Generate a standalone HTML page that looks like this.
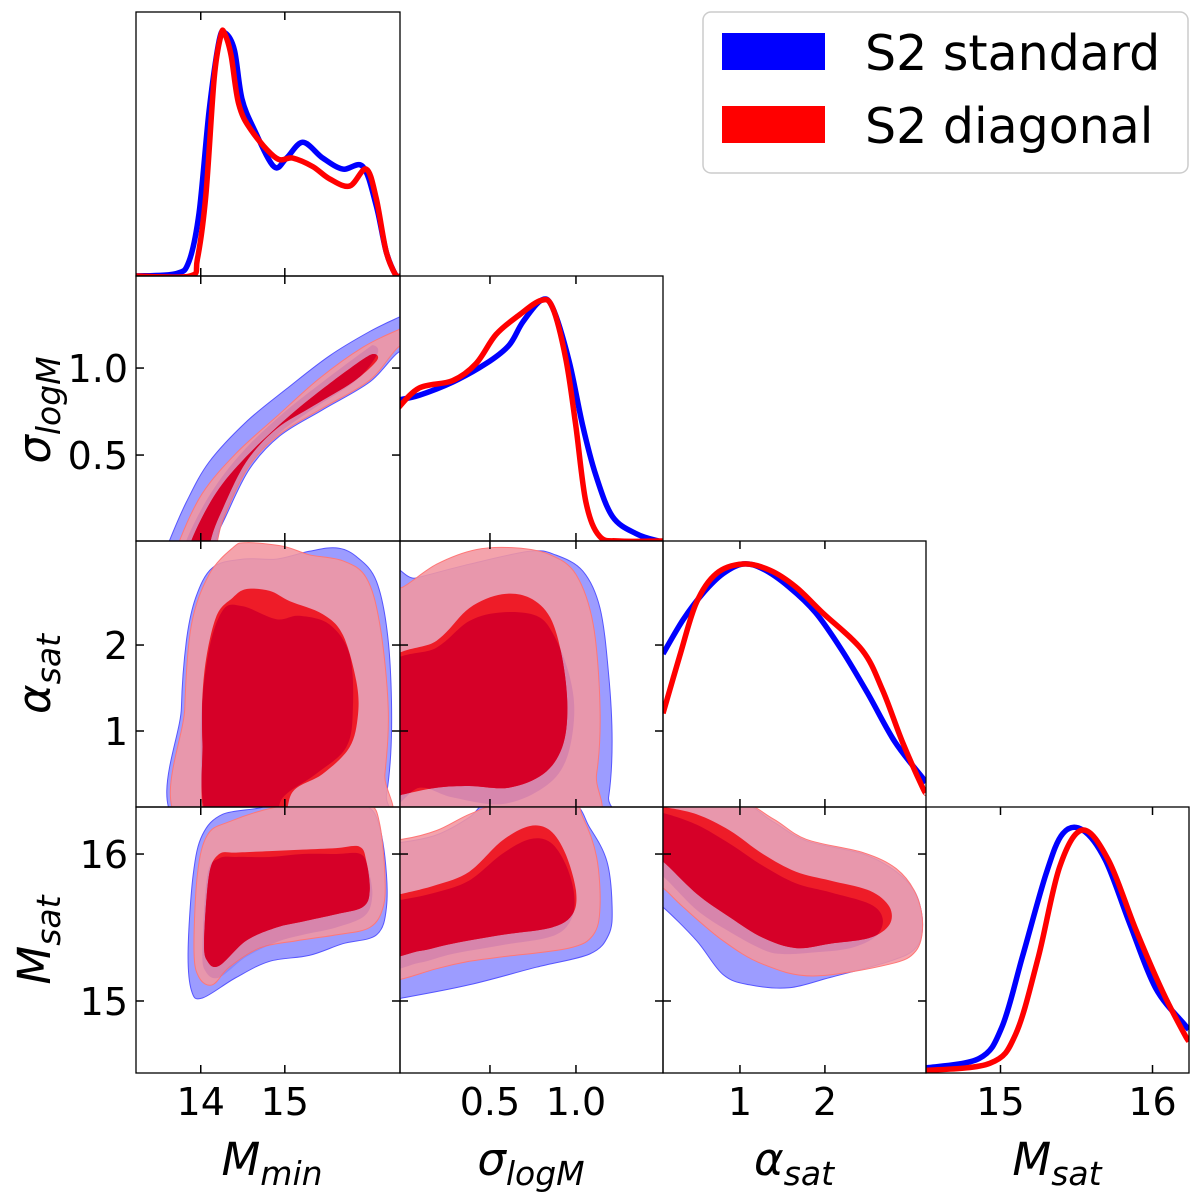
<!DOCTYPE html>
<html><head><meta charset="utf-8">
<style>
html,body{margin:0;padding:0;background:#fff;}
svg{display:block;font-family:"DejaVu Sans","Liberation Sans",sans-serif;}
</style></head>
<body>
<svg id="chart" width="1200" height="1200" viewBox="0 0 1200 1200" xmlns="http://www.w3.org/2000/svg">
<defs id="defs"></defs>
<g id="panels"></g>
<g id="labels"></g>
<g>
  <rect x="703" y="12" width="485" height="161" rx="8" fill="#fff" stroke="#cccccc" stroke-width="1.5"/>
  <rect x="722" y="33" width="103" height="37" fill="#0000ff"/>
  <text x="865" y="70" font-size="49" fill="#000">S2 standard</text>
  <rect x="722" y="106" width="103" height="37" fill="#ff0000"/>
  <text x="865" y="143" font-size="49" fill="#000">S2 diagonal</text>
</g>
</svg>
<script>
// ---- 1D marginal data (value, normalised density) ----
const mminBlueX=[13.23,13.706,13.86,13.98,14.10,14.22,14.29,14.40,14.49,14.64,14.87,15.02,15.214,15.452,15.69,15.929,16.087,16.206,16.325,16.37];
const mminBlueD=[0,0.01,0.06,0.26,0.68,0.97,1.0,0.93,0.73,0.6,0.45,0.485,0.55,0.485,0.44,0.45,0.29,0.1,0,0];
const mminRedX=[13.23,13.87,13.96,14.06,14.16,14.24,14.28,14.36,14.45,14.60,14.897,15.095,15.333,15.532,15.77,15.968,16.087,16.206,16.325,16.37];
const mminRedD=[0,0,0.07,0.33,0.815,0.99,1.0,0.91,0.71,0.6,0.485,0.485,0.45,0.40,0.37,0.44,0.32,0.1,0,0];
const sigBlueX=[-0.037,0.089,0.283,0.477,0.61,0.69,0.797,0.864,0.96,1.039,1.116,1.213,1.35,1.48,1.51];
const sigBlueD=[0.58,0.60,0.654,0.73,0.805,0.90,0.99,0.96,0.74,0.475,0.27,0.10,0.03,0.0,0.0];
const sigRedX=[-0.037,0.089,0.283,0.419,0.535,0.67,0.797,0.864,0.941,0.999,1.058,1.136,1.25,1.48,1.51];
const sigRedD=[0.545,0.63,0.66,0.73,0.85,0.93,0.99,0.96,0.75,0.475,0.16,0.02,0,0,0];
const alpBlueX=[0.094,0.33,0.565,0.80,1.035,1.27,1.58,1.89,2.2,2.5,2.82,3.15,3.19];
const alpBlueD=[0.63,0.77,0.88,0.96,1.0,0.98,0.905,0.80,0.645,0.47,0.27,0.12,0.10];
const alpRedX=[0.094,0.29,0.486,0.72,1.035,1.35,1.66,1.97,2.44,2.68,2.91,3.15,3.19];
const alpRedD=[0.385,0.62,0.84,0.96,1.0,0.975,0.905,0.80,0.645,0.48,0.27,0.08,0.06];
const msBlueX=[14.50,14.86,15.01,15.145,15.30,15.41,15.54,15.69,15.85,16.02,16.21,16.24];
const msBlueD=[0.02,0.06,0.19,0.48,0.82,0.985,1.0,0.876,0.615,0.35,0.2,0.18];
const msRedX=[14.50,14.93,15.10,15.25,15.39,15.54,15.71,15.89,16.07,16.21,16.24];
const msRedD=[0.01,0.04,0.16,0.48,0.85,1.0,0.876,0.59,0.33,0.16,0.13];

// ---- 2D contour data (x-value, y-value) ----
const smBlueOuter=[[13.47,-.2],[13.63,.01],[13.83,.23],[14.10,.46],[14.54,.69],[15.02,.88],[15.53,1.07],[16.01,1.21],[16.35,1.29],[16.56,1.33],[16.56,1.11],[16.35,1.09],[16.01,.92],[15.45,.76],[14.94,.61],[14.58,.42],[14.30,.15],[14.18,.01],[14.12,-.2]];
const smRedOuter=[[13.63,-.2],[13.75,.01],[14.02,.28],[14.42,.51],[14.90,.72],[15.41,.94],[15.93,1.12],[16.35,1.22],[16.56,1.26],[16.56,1.15],[16.35,1.12],[16.01,.93],[15.45,.77],[14.94,.62],[14.58,.44],[14.30,.17],[14.20,.01],[14.14,-.2]];
const smBlueInner=[[13.72,-.2],[13.83,.01],[14.12,.28],[14.50,.52],[14.98,.74],[15.45,.92],[15.95,1.1],[16.06,1.13],[16.1,1.08],[15.85,.93],[15.35,.77],[14.92,.62],[14.56,.43],[14.30,.16],[14.2,.01],[14.14,-.2]];
const smRedInner=[[13.79,-.2],[13.89,.01],[14.18,.28],[14.54,.49],[15.02,.71],[15.45,.88],[15.93,1.05],[16.07,1.08],[16.09,1.04],[15.81,.92],[15.33,.78],[14.90,.65],[14.54,.46],[14.26,.19],[14.12,.01],[14.06,-.2]];

const amBlueOuter=[[13.77,-.1],[13.77,1.27],[13.83,2.05],[13.94,2.55],[14.14,2.9],[14.5,3.0],[14.9,3.0],[15.29,3.09],[15.61,3.13],[15.85,3.03],[16.09,2.74],[16.23,2.05],[16.27,1.04],[16.21,.26],[16.09,-.1]];
const amRedOuter=[[13.81,-.1],[13.81,1.27],[13.89,2.24],[14.1,2.82],[14.38,3.13],[14.54,3.19],[14.98,3.15],[15.29,3.05],[15.69,2.98],[15.97,2.78],[16.13,2.24],[16.23,1.27],[16.19,.5],[16.09,-.1]];
const amBlueInner=[[14.12,-.1],[14.0,.88],[14.08,1.85],[14.26,2.4],[14.5,2.45],[14.9,2.3],[15.17,2.34],[15.53,2.24],[15.77,1.89],[15.81,1.27],[15.73,.81],[15.37,.5],[14.98,.23],[14.82,-.1]];
const amRedInner=[[14.1,-.1],[14.02,.88],[14.04,1.66],[14.18,2.32],[14.38,2.55],[14.54,2.65],[14.82,2.63],[15.06,2.51],[15.45,2.36],[15.69,2.12],[15.85,1.58],[15.87,1.19],[15.77,.81],[15.45,.5],[15.1,.3],[14.9,-.1]];

const asBlueOuter=[[-.12,-.1],[-.12,2.7],[.07,2.78],[.38,2.94],[.73,3.09],[.88,3.05],[1.04,2.86],[1.14,2.43],[1.19,1.66],[1.21,.88],[1.19,.23],[1.14,-.1]];
const asRedOuter=[[-.12,-.1],[-.12,2.63],[-.01,2.67],[.19,2.94],[.42,3.11],[.65,3.13],[.85,3.05],[1.0,2.82],[1.1,2.24],[1.14,1.27],[1.12,.5],[1.04,-.1]];
const asBlueInner=[[-.12,1.66],[.19,1.97],[.38,2.28],[.57,2.38],[.77,2.34],[.87,2.12],[.96,1.66],[.99,1.19],[.94,.65],[.81,.34],[.57,.15],[.28,.23],[.09,.34],[-.12,.15]];
const asRedInner=[[-.12,1.7],[.19,2.05],[.38,2.43],[.57,2.59],[.73,2.55],[.85,2.32],[.92,1.85],[.95,1.27],[.92,.81],[.81,.5],[.61,.34],[.38,.36],[.19,.34],[-.01,.26],[-.12,.19]];

const mmBlueOuter=[[13.85,15.34],[13.91,15.86],[14.02,16.13],[14.26,16.27],[14.74,16.32],[14.82,16.4],[15.02,16.45],[15.61,16.42],[15.93,16.34],[16.09,16.25],[16.19,15.98],[16.21,15.64],[16.09,15.45],[15.69,15.39],[15.29,15.31],[14.82,15.27],[14.42,15.16],[14.02,15.02],[13.89,15.07]];
const mmRedOuter=[[13.92,15.34],[13.96,15.86],[14.08,16.13],[14.34,16.22],[14.9,16.32],[15.61,16.37],[16.01,16.34],[16.13,16.2],[16.19,15.86],[16.17,15.64],[16.01,15.5],[15.61,15.45],[15.14,15.41],[14.7,15.36],[14.34,15.23],[14.14,15.11],[13.98,15.16]];
const mmBlueInner=[[14.02,15.35],[14.08,15.86],[14.22,15.97],[14.42,15.98],[14.82,15.98],[15.21,16.0],[15.61,16.0],[15.9,16.0],[15.99,15.9],[16.04,15.72],[15.95,15.58],[15.61,15.5],[15.21,15.45],[14.9,15.4],[14.54,15.3],[14.22,15.16],[14.06,15.2]];
const mmRedInner=[[14.04,15.41],[14.1,15.86],[14.22,16.0],[14.42,16.01],[14.82,16.02],[15.21,16.03],[15.61,16.04],[15.89,16.05],[15.97,15.95],[16.01,15.75],[15.93,15.64],[15.61,15.59],[15.21,15.54],[14.9,15.5],[14.54,15.41],[14.22,15.24],[14.08,15.27]];

const msgBlueOuter=[[-.12,16.08],[-.01,16.08],[.19,16.13],[.38,16.25],[.46,16.34],[.57,16.38],[.96,16.36],[1.08,16.18],[1.18,15.95],[1.21,15.64],[1.19,15.45],[1.08,15.32],[.77,15.23],[.38,15.11],[-.01,15.02],[-.12,15.0]];
const msgRedOuter=[[-.12,16.1],[-.01,16.1],[.19,16.16],[.38,16.27],[.57,16.34],[.96,16.36],[1.04,16.25],[1.12,15.98],[1.14,15.64],[1.1,15.45],[.96,15.36],[.57,15.3],[.38,15.27],[.19,15.22],[-.01,15.15],[-.12,15.14]];
const msgBlueInner=[[-.12,15.68],[-.01,15.69],[.19,15.74],[.38,15.82],[.57,16.0],[.73,16.1],[.85,16.08],[.94,15.93],[.99,15.72],[.97,15.55],[.86,15.44],[.57,15.38],[.28,15.32],[.09,15.26],[-.12,15.24]];
const msgRedInner=[[-.12,15.71],[-.01,15.73],[.19,15.79],[.38,15.88],[.57,16.09],[.73,16.19],[.85,16.16],[.94,16.0],[1.0,15.75],[.98,15.59],[.86,15.5],[.57,15.45],[.28,15.39],[.09,15.34],[-.12,15.32]];

const maBlueOuter=[[-.06,16.34],[.09,16.36],[.96,16.36],[1.39,16.22],[1.78,16.09],[2.45,16.0],[2.84,15.88],[3.07,15.73],[3.15,15.52],[3.07,15.36],[2.76,15.27],[2.06,15.16],[1.58,15.09],[1.11,15.11],[.8,15.18],[.49,15.41],[.09,15.64],[-.06,15.68]];
const maRedOuter=[[-.06,16.34],[.09,16.35],[.96,16.36],[1.39,16.24],[1.78,16.1],[2.45,16.01],[2.84,15.9],[3.07,15.73],[3.15,15.52],[3.07,15.34],[2.76,15.25],[1.86,15.17],[1.27,15.25],[.8,15.41],[.33,15.64],[.09,15.77],[-.06,15.79]];
const maBlueInner=[[-.06,16.28],[.09,16.28],[.49,16.2],[.88,16.07],[1.27,15.92],[1.66,15.8],[2.06,15.74],[2.53,15.66],[2.68,15.56],[2.6,15.44],[2.3,15.36],[1.86,15.33],[1.5,15.32],[1.27,15.35],[.88,15.47],[.49,15.62],[.09,15.85],[-.06,15.88]];
const maRedInner=[[-.06,16.32],[.09,16.32],[.49,16.27],[.88,16.16],[1.27,16.0],[1.66,15.88],[2.06,15.82],[2.53,15.75],[2.76,15.64],[2.76,15.52],[2.53,15.43],[2.06,15.39],[1.66,15.36],[1.27,15.43],[.88,15.57],[.49,15.73],[.09,15.95],[-.06,15.98]];

// ---- tick labels ----
const mminTicks=[14,15];
const sigTicks=[0.5,1.0];
const alpTicks=[1,2];
const msTicks=[15,16];

const NS="http://www.w3.org/2000/svg";
const colX=[136,400,663,926,1189];
const rowY=[12,276,541,807,1073];
const axes={
  mmin:{lo:13.23,hi:16.37,ticks:mminTicks,fmt:v=>String(v)},
  sig:{lo:-0.023,hi:1.506,ticks:sigTicks,fmt:v=>v.toFixed(1)},
  alp:{lo:0.094,hi:3.19,ticks:alpTicks,fmt:v=>String(v)},
  ms:{lo:14.51,hi:16.24,ticks:msTicks,fmt:v=>String(v)}
};
const yAxes={
  sig:{lo:0.006,hi:1.529},
  alp:{lo:0.116,hi:3.21},
  ms:{lo:14.51,hi:16.32}
};
const order=["mmin","sig","alp","ms"];
function sx(key,col,v){const a=axes[key];return colX[col]+(v-a.lo)/(a.hi-a.lo)*(colX[col+1]-colX[col]);}
function sy(key,row,v){const a=yAxes[key];return rowY[row+1]-(v-a.lo)/(a.hi-a.lo)*(rowY[row+1]-rowY[row]);}
function dy(row,d){return rowY[row+1]-d*243;}

function el(tag,attrs,parent){const e=document.createElementNS(NS,tag);for(const k in attrs)e.setAttribute(k,attrs[k]);parent.appendChild(e);return e;}
function smoothClosed(pts){
  const n=pts.length;let d="M"+pts[0][0].toFixed(1)+","+pts[0][1].toFixed(1);
  for(let i=0;i<n;i++){
    const p0=pts[(i-1+n)%n],p1=pts[i],p2=pts[(i+1)%n],p3=pts[(i+2)%n];
    const c1=[p1[0]+(p2[0]-p0[0])/6,p1[1]+(p2[1]-p0[1])/6];
    const c2=[p2[0]-(p3[0]-p1[0])/6,p2[1]-(p3[1]-p1[1])/6];
    d+="C"+c1[0].toFixed(1)+","+c1[1].toFixed(1)+" "+c2[0].toFixed(1)+","+c2[1].toFixed(1)+" "+p2[0].toFixed(1)+","+p2[1].toFixed(1);
  }
  return d+"Z";
}
function smoothOpen(pts){
  const n=pts.length;let d="M"+pts[0][0].toFixed(1)+","+pts[0][1].toFixed(1);
  for(let i=0;i<n-1;i++){
    const p0=pts[Math.max(i-1,0)],p1=pts[i],p2=pts[i+1],p3=pts[Math.min(i+2,n-1)];
    const c1=[p1[0]+(p2[0]-p0[0])/6,p1[1]+(p2[1]-p0[1])/6];
    const c2=[p2[0]-(p3[0]-p1[0])/6,p2[1]-(p3[1]-p1[1])/6];
    d+="C"+c1[0].toFixed(1)+","+c1[1].toFixed(1)+" "+c2[0].toFixed(1)+","+c2[1].toFixed(1)+" "+p2[0].toFixed(1)+","+p2[1].toFixed(1);
  }
  return d;
}
const defs=document.getElementById("defs");
const panels=document.getElementById("panels");
const labels=document.getElementById("labels");
let clipId=0;
function panelClip(col,row){
  const id="clip"+(clipId++);
  const cp=el("clipPath",{id:id},defs);
  el("rect",{x:colX[col],y:rowY[row],width:colX[col+1]-colX[col],height:rowY[row+1]-rowY[row]},cp);
  return id;
}
function frame(col,row,g,diag){
  const x0=colX[col],x1=colX[col+1],y0=rowY[row],y1=rowY[row+1];
  const kx=order[col];
  axes[kx].ticks.forEach(t=>{
    const x=sx(kx,col,t);
    const t1=el("line",{x1:x,x2:x,y1:y1,y2:y1-8,stroke:"#000","stroke-width":1.5},g);
    
    
    const t2=el("line",{x1:x,x2:x,y1:y0,y2:y0+8,stroke:"#000","stroke-width":1.5},g);
    
    
  });
  if(!diag){
    const ky=order[row];
    axes[ky].ticks.forEach(t=>{
      const y=sy(ky,row,t);
      const t1=el("line",{x1:x0,x2:x0+8,y1:y,y2:y,stroke:"#000","stroke-width":1.5},g);
      
      
      const t2=el("line",{x1:x1,x2:x1-8,y1:y,y2:y,stroke:"#000","stroke-width":1.5},g);
      
      
    });
  }
  const r=el("rect",{x:x0,y:y0,width:x1-x0,height:y1-y0,fill:"none",stroke:"#000","stroke-width":1.3},g);
  
  
}
function diagPanel(col,name,bx,bd,rx,rd){
  const g=el("g",{},panels);
  
  
  const cid=panelClip(col,col);
  const key=order[col];
  const cg=el("g",{"clip-path":"url(#"+cid+")"},g);
  const bp=el("path",{d:smoothOpen(bx.map((v,i)=>[sx(key,col,v),dy(col,bd[i])])),fill:"none",stroke:"#0000ff","stroke-width":5.5,"stroke-linejoin":"round"},cg);
  
  
  const rp=el("path",{d:smoothOpen(rx.map((v,i)=>[sx(key,col,v),dy(col,rd[i])])),fill:"none",stroke:"#ff0000","stroke-width":5.5,"stroke-linejoin":"round"},cg);
  
  
  frame(col,col,g,true);
}
function contourPanel(col,row,name,bo,bi,ro,ri){
  const g=el("g",{},panels);
  
  
  const cid=panelClip(col,row);
  const kx=order[col],ky=order[row];
  const P=pts=>smoothClosed(pts.map(p=>[sx(kx,col,p[0]),sy(ky,row,p[1])]));
  const cg=el("g",{"clip-path":"url(#"+cid+")"},g);
  const a=el("path",{d:P(bo),fill:"rgb(156,156,255)",stroke:"#5555ff","stroke-width":1},cg);
  
  
  const b=el("path",{d:P(bi),fill:"rgba(60,60,230,0.2)"},cg);
  
  
  const c=el("path",{d:P(ro),fill:"rgba(242,150,160,0.88)",stroke:"#ff7777","stroke-width":1},cg);
  
  
  const iid0="clip"+(clipId++);
  const icp0=el("clipPath",{id:iid0},defs);
  el("path",{d:P(bi)},icp0);
  const f=el("path",{d:P(ro),fill:"rgba(150,60,170,0.18)","clip-path":"url(#"+iid0+")"},cg);
  
  
  const d=el("path",{d:P(ri),fill:"rgb(238,28,40)"},cg);
  
  
  const e=el("path",{d:P(ri),fill:"rgb(214,0,40)","clip-path":"url(#"+iid0+")"},cg);
  
  
  frame(col,row,g,false);
}
diagPanel(0,"mmin",mminBlueX,mminBlueD,mminRedX,mminRedD);
diagPanel(1,"sigma",sigBlueX,sigBlueD,sigRedX,sigRedD);
diagPanel(2,"alpha",alpBlueX,alpBlueD,alpRedX,alpRedD);
diagPanel(3,"msat",msBlueX,msBlueD,msRedX,msRedD);
contourPanel(0,1,"sigma-vs-mmin",smBlueOuter,smBlueInner,smRedOuter,smRedInner);
contourPanel(0,2,"alpha-vs-mmin",amBlueOuter,amBlueInner,amRedOuter,amRedInner);
contourPanel(1,2,"alpha-vs-sigma",asBlueOuter,asBlueInner,asRedOuter,asRedInner);
contourPanel(0,3,"msat-vs-mmin",mmBlueOuter,mmBlueInner,mmRedOuter,mmRedInner);
contourPanel(1,3,"msat-vs-sigma",msgBlueOuter,msgBlueInner,msgRedOuter,msgRedInner);
contourPanel(2,3,"msat-vs-alpha",maBlueOuter,maBlueInner,maRedOuter,maRedInner);

// tick labels
order.forEach((k,col)=>{
  axes[k].ticks.forEach(t=>{
    const tx=el("text",{x:sx(k,col,t),y:1115,"font-size":38,"text-anchor":"middle"},labels);
    tx.textContent=axes[k].fmt(t);
    
    
  });
});
[1,2,3].forEach(row=>{
  const k=order[row];
  axes[k].ticks.forEach(t=>{
    const ty=el("text",{x:128,y:sy(k,row,t)+14,"font-size":38,"text-anchor":"end"},labels);
    ty.textContent=axes[k].fmt(t);
    
    
  });
});
</script>
<div style="position:absolute;left:0;top:0;width:1200px;height:1200px;pointer-events:none;">
<svg width="1200" height="1200" style="font-family:'DejaVu Sans','Liberation Sans',sans-serif;">
  <text x="272" y="1175" font-size="45" font-style="italic" text-anchor="middle">M<tspan font-size="33" dy="10">min</tspan></text>
  <text x="531" y="1175" font-size="45" font-style="italic" text-anchor="middle">σ<tspan font-size="33" dy="10">logM</tspan></text>
  <text x="794" y="1175" font-size="45" font-style="italic" text-anchor="middle">α<tspan font-size="33" dy="10">sat</tspan></text>
  <text x="1057" y="1175" font-size="45" font-style="italic" text-anchor="middle">M<tspan font-size="33" dy="10">sat</tspan></text>
  <text transform="translate(50,410) rotate(-90)" font-size="45" font-style="italic" text-anchor="middle">σ<tspan font-size="33" dy="10">logM</tspan></text>
  <text transform="translate(50,674) rotate(-90)" font-size="45" font-style="italic" text-anchor="middle">α<tspan font-size="33" dy="10">sat</tspan></text>
  <text transform="translate(50,940) rotate(-90)" font-size="45" font-style="italic" text-anchor="middle">M<tspan font-size="33" dy="10">sat</tspan></text>
</svg>
</div>
</body></html>
